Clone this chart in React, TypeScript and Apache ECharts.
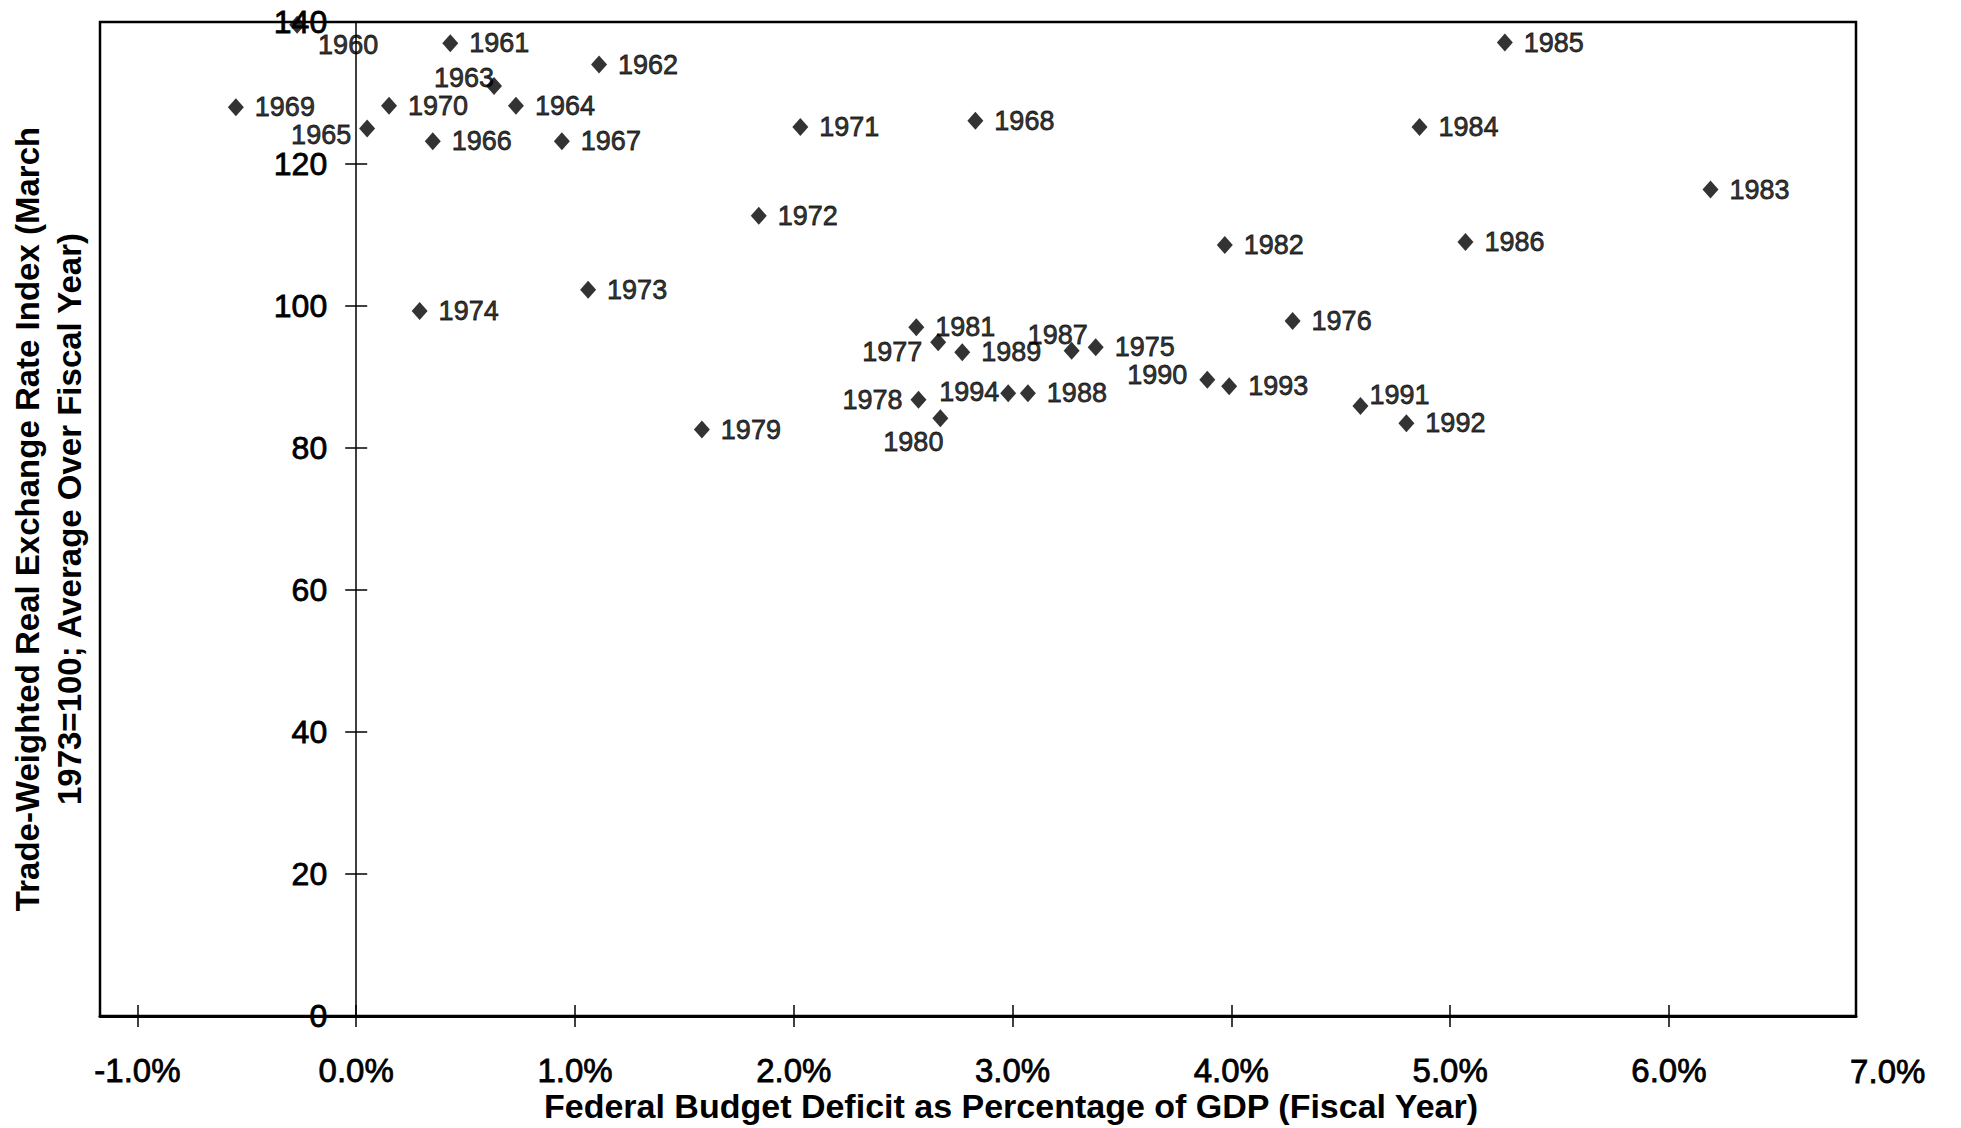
import React, { useEffect, useRef } from "react";
import * as echarts from "echarts";

const years = [
  1960, 1961, 1962, 1963, 1964, 1965, 1966, 1967, 1968, 1969, 1970, 1971,
  1972, 1973, 1974, 1975, 1976, 1977, 1978, 1979, 1980, 1981, 1982, 1983,
  1984, 1985, 1986, 1987, 1988, 1989, 1990, 1991, 1992, 1993, 1994,
];
// Federal budget deficit, % of GDP (fiscal year)
const deficits = [
  -0.27, 0.43, 1.11, 0.63, 0.73, 0.05, 0.35, 0.94, 2.83, -0.55, 0.15, 2.03,
  1.84, 1.06, 0.29, 3.38, 4.28, 2.66, 2.57, 1.58, 2.67, 2.56, 3.97, 6.19,
  4.86, 5.25, 5.07, 3.27, 3.07, 2.77, 3.89, 4.59, 4.8, 3.99, 2.98,
];
// Trade-weighted real exchange rate index (March 1973 = 100)
const rates = [
  139.6, 137.0, 134.0, 131.0, 128.2, 125.0, 123.2, 123.2, 126.1, 128.0, 128.2,
  125.2, 112.7, 102.3, 99.3, 94.2, 97.9, 94.9, 86.8, 82.6, 84.2, 97.0, 108.6,
  116.4, 125.2, 137.1, 109.0, 93.7, 87.7, 93.5, 89.6, 85.9, 83.5, 88.7, 87.7,
];
const xTickValues = [-1, 0, 1, 2, 3, 4, 5, 6];
const xExtraTick = 7;
const yTickValues = [0, 20, 40, 60, 80, 100, 120, 140];

const xTitle = "Federal Budget Deficit as Percentage of GDP (Fiscal Year)";
const yTitle =
  "Trade-Weighted Real Exchange Rate Index (March\n1973=100; Average Over Fiscal Year)";

// label centre offsets (px) from the marker for labels not to the right
const labelOffsets: Record<number, [number, number]> = {
  1960: [51, 20],
  1963: [-30, -8],
  1965: [-46, 6],
  1977: [-46, 10],
  1978: [-46, 0],
  1980: [-27, 24],
  1987: [-14, -16],
  1990: [-50, -5],
  1991: [39, -11],
  1994: [-39, -1],
};
const defaultOffset: [number, number] = [49, 0];

const FONT = "'Liberation Sans', Arial, Helvetica, sans-serif";
const fmtPct = (v: number) => v.toFixed(1) + "%";

export default function App() {
  const ref = useRef<HTMLDivElement>(null);
  useEffect(() => {
    const chart = echarts.init(ref.current!, null, { renderer: "svg" });
    const xMin = -1.171;
    const xMax = 6.855;
    const data = years.map((yr, i) => ({
      name: String(yr),
      value: [deficits[i], rates[i]],
      label: { offset: labelOffsets[yr] || defaultOffset },
    }));
    const tickStyle = { color: "#000", width: 1.5 };
    chart.setOption({
      animation: false,
      backgroundColor: "#fff",
      grid: {
        left: 100,
        right: 105,
        top: 22,
        bottom: 112,
        show: true,
        borderColor: "#000",
        borderWidth: 2.5,
        outerBoundsMode: "none",
        containLabel: false,
      },
      xAxis: [
        {
          type: "value",
          min: xMin,
          max: xMax,
          position: "bottom",
          axisLine: { show: true, onZero: false, lineStyle: { color: "#000", width: 3 } },
          axisTick: {
            show: true,
            inside: false,
            length: 11,
            customValues: xTickValues,
            lineStyle: tickStyle,
          },
          axisLabel: {
            show: true,
            customValues: xTickValues,
            formatter: (v: number) => fmtPct(v),
            color: "#000",
            fontSize: 33,
            fontFamily: FONT,
            margin: 38,
            textBorderColor: "#000",
            textBorderWidth: 0.8,
          },
          splitLine: { show: false },
        },
        {
          type: "value",
          min: xMin,
          max: xMax,
          position: "bottom",
          axisLine: { show: false, onZero: false },
          axisTick: {
            show: true,
            inside: true,
            length: 11,
            customValues: xTickValues,
            lineStyle: tickStyle,
          },
          axisLabel: { show: false },
          splitLine: { show: false },
        },
      ],
      yAxis: [
        {
          type: "value",
          min: 0,
          max: 140,
          interval: 20,
          position: "left",
          axisLine: {
            show: true,
            onZero: true,
            onZeroAxisIndex: 0,
            lineStyle: { color: "#000", width: 1.5 },
          },
          axisTick: { show: true, inside: false, length: 11, lineStyle: tickStyle },
          axisLabel: { show: false },
          splitLine: { show: false },
        },
        {
          type: "value",
          min: 0,
          max: 140,
          interval: 20,
          position: "left",
          axisLine: { show: false, onZero: true, onZeroAxisIndex: 0 },
          axisTick: { show: true, inside: true, length: 11, lineStyle: tickStyle },
          axisLabel: { show: false },
          splitLine: { show: false },
        },
      ],
      series: [
        {
          type: "scatter",
          xAxisIndex: 0,
          yAxisIndex: 0,
          symbol: "diamond",
          symbolSize: [16, 18],
          itemStyle: { color: "#000" },
          label: {
            show: true,
            position: "inside",
            formatter: "{b}",
            color: "#000",
            fontSize: 27,
            fontFamily: FONT,
            align: "center",
            verticalAlign: "middle",
            textBorderColor: "#000",
            textBorderWidth: 0.8,
          },
          data,
        },
      ],
    });
    const p7 = chart.convertToPixel({ xAxisIndex: 0 }, xExtraTick) as number;
    const x0 = chart.convertToPixel({ xAxisIndex: 0 }, 0) as number;
    const yLabels = yTickValues.map((v) => ({
      type: "text",
      x: x0 - 29,
      y: chart.convertToPixel({ yAxisIndex: 0 }, v) as number,
      style: {
        text: String(v),
        font: `32px ${FONT}`,
        fill: "#000",
        stroke: "#000",
        lineWidth: 0.8,
        textAlign: "right",
        textVerticalAlign: "middle",
      },
    }));
    chart.setOption({
      graphic: [
        ...yLabels,
        {
          type: "text",
          x: p7,
          y: 1071,
          style: {
            text: fmtPct(xExtraTick),
            font: `33px ${FONT}`,
            fill: "#000",
            stroke: "#000",
            lineWidth: 0.8,
            textAlign: "center",
            textVerticalAlign: "middle",
          },
        },
        {
          type: "text",
          x: 1011,
          y: 1106,
          style: {
            text: xTitle,
            font: `bold 34px ${FONT}`,
            fill: "#000",
            textAlign: "center",
            textVerticalAlign: "middle",
          },
        },
        {
          type: "text",
          x: 48,
          y: 519,
          rotation: Math.PI / 2,
          style: {
            text: yTitle,
            font: `bold 33px ${FONT}`,
            lineHeight: 42,
            fill: "#000",
            textAlign: "center",
            textVerticalAlign: "middle",
          },
        },
      ],
    });
    return () => chart.dispose();
  }, []);
  return (
    <div
      ref={ref}
      style={{ position: "absolute", left: 0, top: 0, width: 1961, height: 1128, background: "#fff" }}
    />
  );
}
